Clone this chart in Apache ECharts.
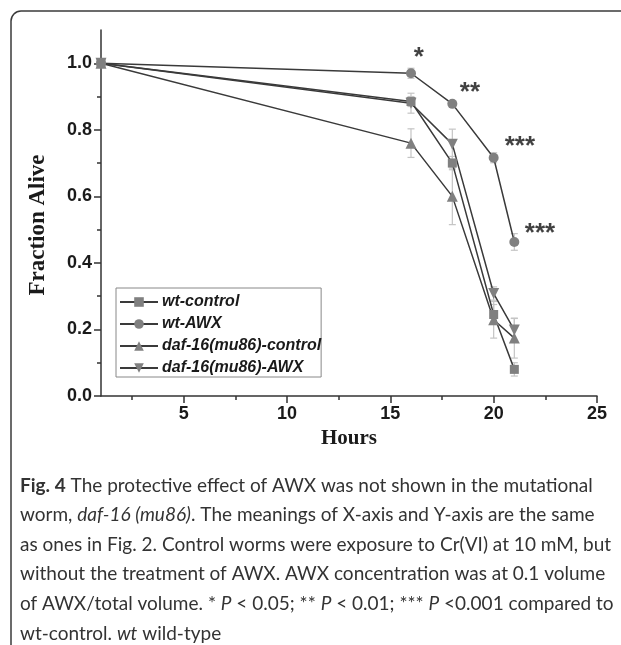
<!DOCTYPE html>
<html>
<head>
<meta charset="utf-8">
<script src="https://cdn.jsdelivr.net/npm/echarts@6/dist/echarts.min.js"></script>
<style>
html,body{margin:0;padding:0;background:#fff;}
#chart{width:621px;height:645px;}
</style>
</head>
<body>
<div id="chart"></div>
<script>
// ---- data ----
const hours = [1, 16, 18, 20, 21];
const seriesNames = ['wt-control', 'wt-AWX', 'daf-16(mu86)-control', 'daf-16(mu86)-AWX'];
const wtControl = [1.0, 0.885, 0.700, 0.245, 0.080];
const wtControlErr = [0, 0.015, 0.020, 0.030, 0.020];
const wtAWX = [1.0, 0.970, 0.878, 0.716, 0.463];
const wtAWXErr = [0, 0.015, 0.006, 0.015, 0.025];
const dafControl = [1.0, 0.760, 0.600, 0.229, 0.174];
const dafControlErr = [0, 0.043, 0.085, 0.055, 0.060];
const dafAWX = [1.0, 0.880, 0.757, 0.308, 0.198];
const dafAWXErr = [0, 0.030, 0.045, 0.020, 0.035];
const xMajorTicks = [5, 10, 15, 20, 25];
const xMinorTicks = [2.5, 7.5, 12.5, 17.5, 22.5];
const yMajorTicks = [0, 0.2, 0.4, 0.6, 0.8, 1.0];
const yMinorTicks = [0.1, 0.3, 0.5, 0.7, 0.9];
const starLabels = ['*', '**', '***', '***'];
const starX = [16.38, 18.85, 21.27, 22.24];
const starY = [1.015, 0.910, 0.748, 0.488];
const captionLines = [
  '{b|Fig. 4} The protective effect of AWX was not shown in the mutational',
  'worm, {i|daf-16 (mu86)}. The meanings of X-axis and Y-axis are the same',
  'as ones in Fig. 2. Control worms were exposure to Cr(VI) at 10 mM, but',
  'without the treatment of AWX. AWX concentration was at 0.1 volume',
  'of AWX/total volume. * {i|P} < 0.05; ** {i|P} < 0.01; *** {i|P} <0.001 compared to',
  'wt-control. {i|wt} wild-type'
];

// ---- build ----
const means = [wtControl, wtAWX, dafControl, dafAWX];
const errs = [wtControlErr, wtAWXErr, dafControlErr, dafAWXErr];
const symbols = ['rect', 'circle', 'triangle', 'triangle'];
const symbolSizes = [9, 10, 11, 11];
const symbolRotates = [0, 0, 0, 180];
const lineColor = '#3a3a3a';
const markColor = '#808080';
const errColor = '#c4c4c4';

const chart = echarts.init(document.getElementById('chart'), null, {renderer: 'canvas'});

const series = [];
means.forEach((m, k) => {
  series.push({
    type: 'custom',
    name: seriesNames[k] + '-err',
    xAxisIndex: 0, yAxisIndex: 0,
    z: 1,
    silent: true,
    data: hours.map((h, i) => [h, m[i], errs[k][i]]),
    renderItem: function (params, api) {
      const x = api.value(0), y = api.value(1), e = api.value(2);
      if (!e) return null;
      const top = api.coord([x, y + e]);
      const bot = api.coord([x, y - e]);
      const cw = 3.5;
      const st = {stroke: errColor, lineWidth: 1.2};
      return {
        type: 'group',
        children: [
          {type: 'line', shape: {x1: top[0], y1: top[1], x2: bot[0], y2: bot[1]}, style: st},
          {type: 'line', shape: {x1: top[0] - cw, y1: top[1], x2: top[0] + cw, y2: top[1]}, style: st},
          {type: 'line', shape: {x1: bot[0] - cw, y1: bot[1], x2: bot[0] + cw, y2: bot[1]}, style: st}
        ]
      };
    }
  });
});
means.forEach((m, k) => {
  series.push({
    type: 'line',
    name: seriesNames[k],
    xAxisIndex: 0, yAxisIndex: 0,
    z: 3,
    data: hours.map((h, i) => [h, m[i]]),
    symbol: symbols[k],
    symbolSize: symbolSizes[k],
    symbolRotate: symbolRotates[k],
    showAllSymbol: true,
    lineStyle: {color: lineColor, width: 1.5},
    itemStyle: {color: markColor, borderWidth: 0},
    emphasis: {disabled: true},
    animation: false
  });
});
series.push({
  type: 'scatter',
  name: 'stars',
  xAxisIndex: 0, yAxisIndex: 0,
  symbolSize: 0,
  z: 5,
  data: starX.map((x, i) => ({value: [x, starY[i]], label: {formatter: starLabels[i]}})),
  label: {show: true, position: 'inside', color: '#111', fontFamily: 'Arial, Liberation Sans', fontWeight: 'bold', fontSize: 26},
  silent: true
});

const frameStyle = {fill: 'none', stroke: '#3a3a3a', lineWidth: 1.5};
const graphics = [
  {type: 'line', shape: {x1: 11, y1: 21, x2: 11, y2: 900}, style: frameStyle, z: 100},
  {type: 'line', shape: {x1: 21, y1: 11, x2: 900, y2: 11}, style: frameStyle, z: 100},
  {type: 'arc', shape: {cx: 21, cy: 21, r: 10, startAngle: Math.PI, endAngle: Math.PI * 1.5}, style: frameStyle, z: 100}
];
captionLines.forEach((t, i) => {
  graphics.push({
    type: 'text',
    left: 20,
    top: 476 + i * 29.6,
    z: 100,
    style: {
      text: t,
      fill: '#333',
      font: '19px Lato',
      rich: {
        b: {fontWeight: 'bold', fontFamily: 'Lato', fontSize: 19, fill: '#333'},
        i: {fontStyle: 'italic', fontFamily: 'Lato', fontSize: 19, fill: '#333'}
      }
    }
  });
});

const axisLbl = {fontFamily: 'Arial, Liberation Sans', fontWeight: 'bold', fontSize: 18, color: '#1a1a1a'};

chart.setOption({
  animation: false,
  backgroundColor: '#fff',
  grid: {left: 101, top: 30, right: 24, bottom: 249},
  legend: {
    data: seriesNames,
    orient: 'vertical',
    left: 116,
    top: 288,
    padding: [6, 0, 1, 3],
    itemGap: 6,
    itemWidth: 38,
    itemHeight: 12,
    borderColor: '#888',
    borderWidth: 1,
    textStyle: {fontFamily: 'Arial, Liberation Sans', fontWeight: 'bold', fontStyle: 'italic', fontSize: 16, color: '#1a1a1a', padding: [0, 0, 0, -1]},
    selectedMode: false
  },
  xAxis: [{
    type: 'value', min: 1, max: 25,
    name: 'Hours', nameLocation: 'middle', nameGap: 32,
    nameTextStyle: {fontFamily: 'Liberation Serif, Times New Roman, serif', fontWeight: 'bold', fontSize: 21, color: '#1a1a1a'},
    axisLine: {show: true, lineStyle: {color: '#333', width: 1.5}},
    axisTick: {show: true, customValues: xMajorTicks, length: 7, lineStyle: {color: '#333', width: 1.5}},
    axisLabel: {customValues: xMajorTicks, margin: 9, ...axisLbl},
    splitLine: {show: false}
  }, {
    type: 'value', min: 1, max: 25, position: 'bottom',
    axisLine: {show: false},
    axisTick: {show: true, customValues: xMinorTicks, length: 4, lineStyle: {color: '#333', width: 1.5}},
    axisLabel: {show: false},
    splitLine: {show: false}
  }],
  yAxis: [{
    type: 'value', min: 0, max: 1.1,
    name: 'Fraction Alive', nameLocation: 'middle', nameGap: 51,
    nameTextStyle: {fontFamily: 'Liberation Serif, Times New Roman, serif', fontWeight: 'bold', fontSize: 23, color: '#1a1a1a', padding: [0, 24, 0, 0]},
    axisLine: {show: true, lineStyle: {color: '#333', width: 1.5}},
    axisTick: {show: true, customValues: yMajorTicks, length: 7, lineStyle: {color: '#333', width: 1.5}},
    axisLabel: {customValues: yMajorTicks, margin: 9, formatter: v => v.toFixed(1), ...axisLbl},
    splitLine: {show: false}
  }, {
    type: 'value', min: 0, max: 1.1, position: 'left',
    axisLine: {show: false},
    axisTick: {show: true, customValues: yMinorTicks, length: 4, lineStyle: {color: '#333', width: 1.5}},
    axisLabel: {show: false},
    splitLine: {show: false}
  }],
  series: series,
  graphic: graphics
});
</script>
</body>
</html>
